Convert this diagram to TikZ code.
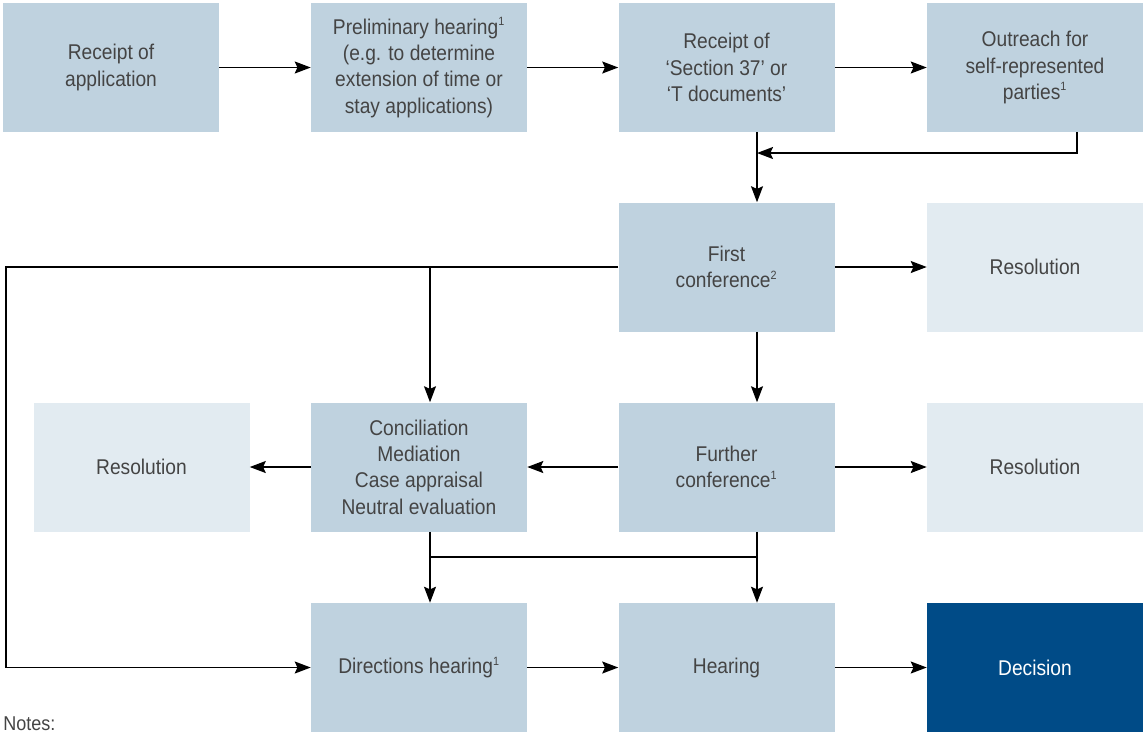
\documentclass[tikz,border=0pt]{standalone}
\usepackage{fontspec}
\setmainfont{Liberation Sans}[FakeStretch=0.9]
\usetikzlibrary{calc}
\usetikzlibrary{arrows.meta}
\definecolor{boxblue}{HTML}{BFD2DF}
\definecolor{paleblue}{HTML}{E2EBF1}
\definecolor{darkblue}{HTML}{004B87}
\definecolor{textgray}{HTML}{444444}
\newcommand{\fnmark}[1]{\textsuperscript{\fontsize{9}{9}\selectfont #1}}
\tikzset{
  stage/.style = {fill=#1, minimum width=162pt, minimum height=96.75pt, inner sep=0pt,
    align=center, text=textgray, font=\fontsize{16}{19.7}\selectfont},
  flow/.style = {color=#1, line width=1.1pt, -{Stealth[length=12pt,width=9pt,inset=2pt]}},
  wire/.style = {color=#1, line width=1.1pt}
}
\begin{document}
\begin{tikzpicture}[x=0.75pt, y=-0.75pt]

    \useasboundingbox (0,0) rectangle (1144,733);

    % Coordinates
    \coordinate (spine) at (757,0);
    \coordinate (branch) at (430,0);
    \coordinate (loop) at (6,0);
    \coordinate (outdrop) at (1077,0);
    \coordinate (merge) at (0,153);
    \coordinate (join) at (0,557);

    % Boxes
    \node[stage={boxblue}] (rcpt) at (111,67.5) {Receipt of\\application};
    \node[stage={boxblue}] (prelim) at (419,67.5) {Preliminary hearing\fnmark{1}\\(e.g. to determine\\extension of time or\\stay applications)};
    \node[stage={boxblue}] (sect) at (726.5,67.5) {Receipt of\\‘Section 37’ or\\‘T documents’};
    \node[stage={boxblue}] (outr) at (1035,67.5) {Outreach for\\self-represented\\parties\fnmark{1}};
    \node[stage={boxblue}] (first) at (726.5,267) {First\\conference\fnmark{2}};
    \node[stage={paleblue}] (resA) at (1035,267) {Resolution};
    \node[stage={paleblue}] (resB) at (141.5,467) {Resolution};
    \node[stage={boxblue}] (adr) at (419,467) {Conciliation\\Mediation\\Case appraisal\\Neutral evaluation};
    \node[stage={boxblue}] (further) at (726.5,467) {Further\\conference\fnmark{1}};
    \node[stage={paleblue}] (resC) at (1035,467) {Resolution};
    \node[stage={boxblue}] (dirs) at (419,667.5) {Directions hearing\fnmark{1}};
    \node[stage={boxblue}] (hear) at (726.5,667.5) {Hearing};
    \node[stage={darkblue}, text=white] (dec) at (1035,667.5) {Decision};

    % Arrows
    \draw[flow={black}] (rcpt) -- (prelim);
    \draw[flow={black}] (prelim) -- (sect);
    \draw[flow={black}] (sect) -- (outr);
    \draw[flow={black}] (outr.south -| outdrop) |- (merge -| spine);
    \draw[flow={black}] (sect.south -| spine) -- (first.north -| spine);
    \draw[flow={black}] (first) -- (resA);
    \draw[flow={black}] (first.south -| spine) -- (further.north -| spine);
    \draw[flow={black}] (first.west) -| (dirs.west -| loop) -- (dirs.west);
    \draw[flow={black}] (first.west -| branch) -- (adr.north -| branch);
    \draw[flow={black}] (further) -- (adr);
    \draw[flow={black}] (adr) -- (resB);
    \draw[flow={black}] (further) -- (resC);
    \draw[flow={black}] (adr.south -| branch) -- (dirs.north -| branch);
    \draw[flow={black}] (further.south -| spine) -- (hear.north -| spine);
    \draw[wire={black}] (join -| branch) -- (join -| spine);
    \draw[flow={black}] (dirs) -- (hear);
    \draw[flow={black}] (hear) -- (dec);

    % Notes
    \node[anchor=base west, inner sep=0pt, text=textgray, font=\fontsize{15}{18}\selectfont] (notes) at (3,730) {Notes:};

\end{tikzpicture}
\end{document}
